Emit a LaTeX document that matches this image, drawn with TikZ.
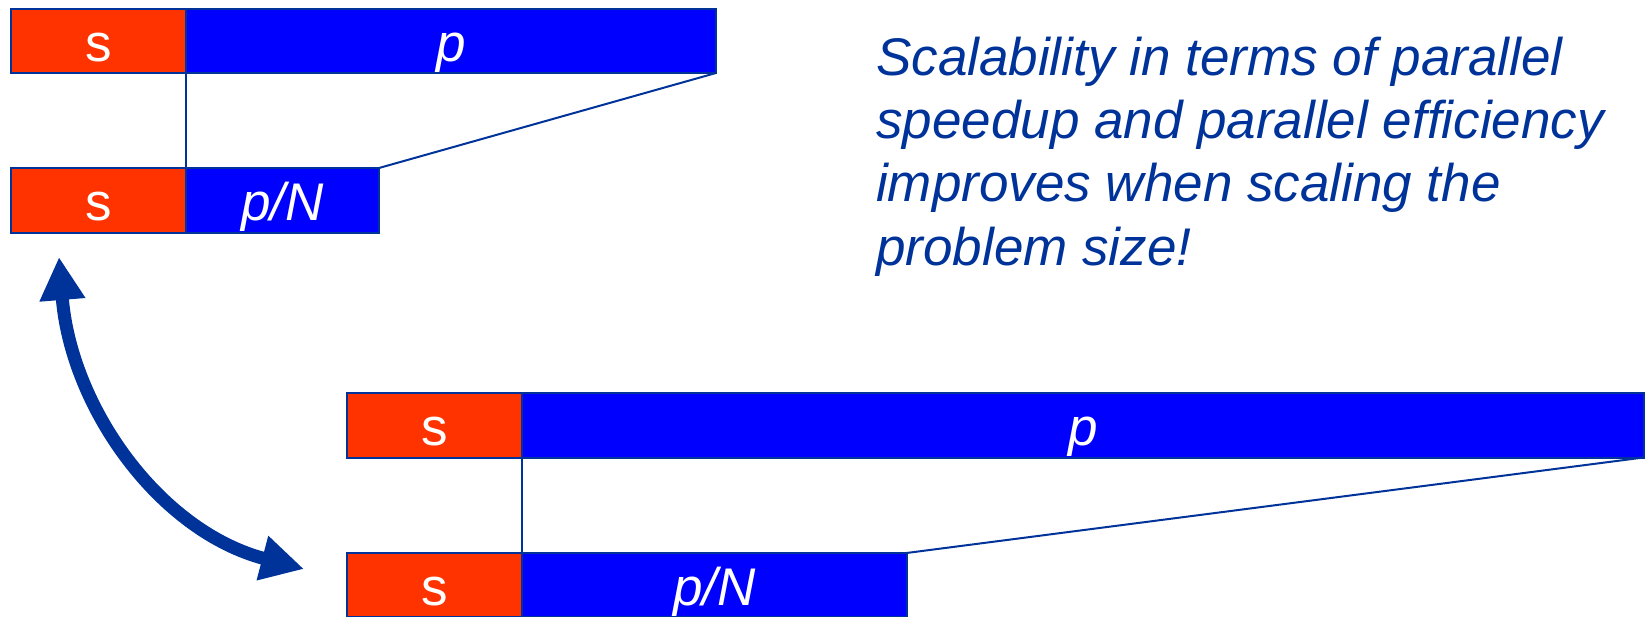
\documentclass[tikz,border=0pt]{standalone}
\usepackage{fontspec}
\setmainfont{Liberation Sans}
\usetikzlibrary{arrows.meta}
\definecolor{sred}{HTML}{FF3300}
\definecolor{pblue}{HTML}{0000FF}
\definecolor{dkblue}{HTML}{003399}
\tikzset{
  bar/.style={draw=dkblue, line width=2pt, inner sep=0pt, outer sep=0pt, anchor=north west, minimum height=64pt},
  sbar/.style={bar, fill=sred, minimum width=175pt},
  pbar/.style={bar, fill=pblue},
  lbl/.style={text=white, font=\fontsize{53}{60}\selectfont, anchor=base, inner sep=0pt},
  link/.style={draw=dkblue, line width=2pt},
  bigarrow/.style={draw=dkblue, line width=13pt, {Triangle[length=43pt,width=43pt]}-{Triangle[length=43pt,width=43pt]}},
  note/.style={text=dkblue, font=\fontsize{53}{63.3}\selectfont\itshape, align=left, anchor=base west, inner sep=0pt}
}
\begin{document}
\begin{tikzpicture}[x=1pt,y=-1pt]
\useasboundingbox (0,0) rectangle (1647,616);
% upper diagram
\node[sbar] (s1) at (11,9) {};
\node[pbar, minimum width=530pt] (p1) at (186,9) {};
\node[sbar, minimum height=64.5pt] (s2) at (11,168) {};
\node[pbar, minimum width=193pt, minimum height=64.5pt] (q1) at (186,168) {};
\node[lbl] (s1l) at ([yshift=12pt]s1.south) {s};
\node[lbl] (p1l) at ([yshift=12pt]p1.south) {\itshape p};
\node[lbl] (s2l) at ([yshift=12pt]s2.south) {s};
\node[lbl] (q1l) at ([yshift=12pt]q1.south) {\itshape p/N};
\draw[link] (s1.south east) -- (s2.north east);
\draw[link] (p1.south east) -- (q1.north east);
% lower diagram
\node[sbar, minimum height=65pt] (s3) at (347,392.5) {};
\node[pbar, minimum width=1121.5pt, minimum height=65pt] (p2) at (522,392.5) {};
\node[sbar] (s4) at (347,553) {};
\node[pbar, minimum width=384.5pt] (q2) at (522,553) {};
\node[lbl] (s3l) at ([yshift=12pt]s3.south) {s};
\node[lbl] (p2l) at ([yshift=12pt]p2.south) {\itshape p};
\node[lbl] (s4l) at ([yshift=12pt]s4.south) {s};
\node[lbl] (q2l) at ([yshift=12pt]q2.south) {\itshape p/N};
\draw[link] (s3.south east) -- (s4.north east);
\draw[link] (p2.south east) -- (q2.north east);
% curved double arrow
\coordinate (a1) at (59,257);
\coordinate (a2) at (304,569);
\draw[bigarrow] (a1) .. controls (71,407) and (159,531) .. (a2);
% text
\node[note] (txt) at (876,265) {Scalability in terms of parallel\\speedup and parallel efficiency\\improves when scaling the\\problem size!};
\end{tikzpicture}
\end{document}
